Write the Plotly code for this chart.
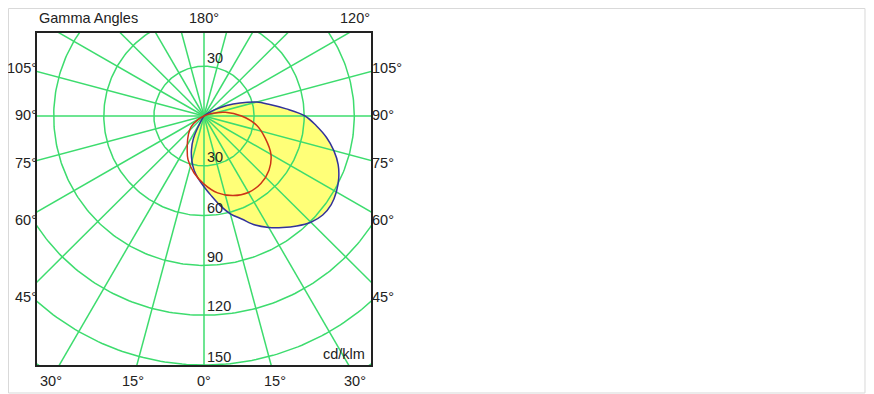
import numpy as np
import plotly.graph_objects as go

# gamma angle (deg, 0 = straight down, + = right side) and intensity (cd/klm)
gamma_c0 = [-35, -30, -25, -20, -15, -10, -5, 0, 5, 10, 15, 20, 25, 30, 35, 40, 45,
            50, 55, 60, 65, 70, 75, 80, 85, 90, 95, 100, 105, 110, 115, 120, 125, 130]
int_c0 = [0, 4, 15, 22, 28, 33.5, 38, 42.6, 48, 54.5, 61, 66, 72.5, 77.5, 82, 86.5, 90.5,
          92.8, 93, 91.5, 89, 85.5, 80.5, 74.5, 67.5, 60.5, 49.5, 40, 32.5, 23, 15, 8, 3, 0]

gamma_c90 = [-65, -60, -50, -40, -30, -20, -10, 0, 10, 20, 30, 40, 50, 60, 70, 80,
             90, 100, 110, 115]
int_c90 = [0, 4, 10, 14.5, 20, 28, 34.7, 41, 47, 51, 53.2, 53, 50.8, 46.3, 39, 32,
           22.5, 13, 4, 0]

rings = [30, 60, 90, 120, 150, 180]
ring_labels = ['30', '30', '60', '90', '120', '150']
ring_label_y = [35, -24.7, -55.4, -85, -114.5, -145.2]

side_labels = ['105°', '90°', '75°', '60°', '45°']
side_label_y = [28.9, 0.6, -28.3, -62.6, -109]
bottom_labels = ['30°', '15°', '0°', '15°', '30°']
bottom_label_x = [-91.6, -42.5, 0, 42.5, 90.4]
top_labels = ['180°', '120°']
top_label_x = [0, 90.4]

X_RANGE = [-100, 100]
Y_RANGE = [-150, 50]
GRID = '#3ddc6e'
FONT = dict(family='Liberation Sans, Arial, sans-serif', size=14.5, color='#222222')


def to_xy(gamma, intensity):
    g = np.radians(np.array(gamma, dtype=float))
    r = np.array(intensity, dtype=float)
    return r * np.sin(g), -r * np.cos(g)


def px(x):
    return (x - X_RANGE[0]) / (X_RANGE[1] - X_RANGE[0])


def py(y):
    return (y - Y_RANGE[0]) / (Y_RANGE[1] - Y_RANGE[0])


def label(fig, x, y, text, xanchor='center', **kw):
    # paper-referenced so labels outside the axis range are still drawn
    fig.add_annotation(x=px(x), y=py(y), xref='paper', yref='paper', text=text,
                       xanchor=xanchor, yanchor='middle',
                       showarrow=False, font=FONT, **kw)


fig = go.Figure()

# yellow fill of the C0-C180 plane, drawn under the grid
x0, y0 = to_xy(gamma_c0, int_c0)
fig.add_trace(go.Scatter(x=x0, y=y0, mode='lines', fill='toself',
                         fillcolor='#ffff78', line=dict(width=0, shape='spline'),
                         hoverinfo='skip', showlegend=False))

# grid: rings and 15 degree spokes
t = np.linspace(0, 2 * np.pi, 361)
for r in rings:
    fig.add_trace(go.Scatter(x=r * np.cos(t), y=r * np.sin(t), mode='lines',
                             line=dict(color=GRID, width=1.5),
                             hoverinfo='skip', showlegend=False))
for a in range(0, 360, 15):
    sx, sy = to_xy([a, a], [0, 220])
    fig.add_trace(go.Scatter(x=sx, y=sy, mode='lines',
                             line=dict(color=GRID, width=1.5),
                             hoverinfo='skip', showlegend=False))

fig.add_trace(go.Scatter(x=x0, y=y0, mode='lines', name='C0-C180',
                         line=dict(color='#33339a', width=1.5, shape='spline'),
                         showlegend=False))
x90, y90 = to_xy(gamma_c90, int_c90)
fig.add_trace(go.Scatter(x=x90, y=y90, mode='lines', name='C90-C270',
                         line=dict(color='#cc3318', width=1.5, shape='spline'),
                         showlegend=False))

# labels
label(fig, -100, 59, 'Gamma Angles', xanchor='left')
for txt, xx in zip(top_labels, top_label_x):
    label(fig, xx, 59, txt)
for txt, yy in zip(side_labels, side_label_y):
    label(fig, -100, yy, txt, xanchor='right', xshift=2)
    label(fig, 100, yy, txt, xanchor='left', xshift=-1)
for txt, xx in zip(bottom_labels, bottom_label_x):
    label(fig, xx, -159.6, txt)
for txt, yy in zip(ring_labels, ring_label_y):
    label(fig, 0.3, yy, txt, xanchor='left')
label(fig, 97.5, -143.4, 'cd/klm', xanchor='right')

# light outer frame of the picture
fig.add_shape(type='rect', xref='paper', yref='paper',
              x0=-0.0853, x1=2.479, y0=-0.0843, y1=1.0738,
              line=dict(color='#d9d9d9', width=1))

fig.update_layout(width=858, height=386, autosize=False,
                  margin=dict(l=29, r=495, t=25, b=29),
                  paper_bgcolor='white', plot_bgcolor='white',
                  xaxis=dict(range=X_RANGE, showgrid=False, zeroline=False,
                             showticklabels=False, ticks='', showline=True,
                             linecolor='#222222', linewidth=1.5, mirror=True,
                             fixedrange=True),
                  yaxis=dict(range=Y_RANGE, showgrid=False, zeroline=False,
                             showticklabels=False, ticks='', showline=True,
                             linecolor='#222222', linewidth=1.5, mirror=True,
                             fixedrange=True))

fig.write_html("out.html")
